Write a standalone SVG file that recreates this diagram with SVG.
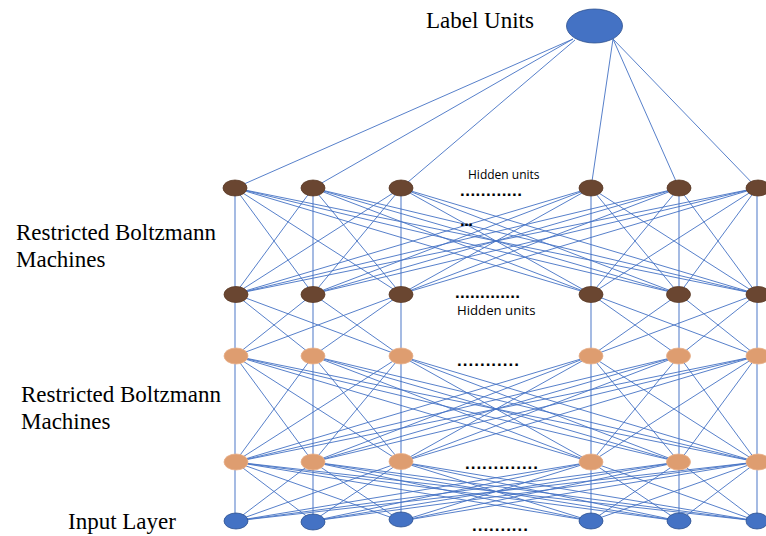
<svg xmlns="http://www.w3.org/2000/svg" width="766" height="536" viewBox="0 0 766 536">
<style>
.bg{fill:#ffffff}
.c{stroke:#4472C4;stroke-width:0.9;fill:none}
.v{stroke:#8FAADC;stroke-width:1.6;fill:none}
.brown{fill:#6A4631;stroke:#5A3A26;stroke-width:0.8}
.orange{fill:#DE9D70;stroke:#E8B08A;stroke-width:0.8}
.blue{fill:#4472C4;stroke:#2F528F;stroke-width:0.8}
.lbl{font-family:"Liberation Serif","Times New Roman",serif;font-size:23px;fill:#000}
.hu{font-family:"Open Sans","Liberation Sans",Arial,sans-serif;fill:#000}
.dots{font-family:"Liberation Sans",Arial,sans-serif;font-size:17px;font-weight:bold;fill:#000}
</style>
<rect class="bg" x="0" y="0" width="766" height="536"/>
<g id="connectors">
<path class="c" d="M573 39L235 188M573 39L313 188M575 40L401 188M613 39L591 188M613 39L679 188M613 39L757 188"/>
<path class="v" d="M235 188L235 294M313 188L313 294M401 188L401 294M591 188L591 294M679 188L679 294M757 188L757 294M235 294L235 356M313 294L313 356M401 294L401 356M591 294L591 356M679 294L679 356M757 294L757 356M235 356L235 462M313 356L313 462M401 356L401 462M591 356L591 462M679 356L679 462M757 356L757 462M235 462L235 521M313 462L313 521M401 462L401 521M591 462L591 521M679 462L679 521M757 462L757 521"/>
<path class="c" d="M235 188L313 294M235 188L401 294M235 188L591 294M235 188L679 294M235 188L757 294M313 188L235 294M313 188L401 294M313 188L591 294M313 188L679 294M313 188L757 294M401 188L235 294M401 188L313 294M401 188L591 294M401 188L679 294M401 188L757 294M591 188L235 294M591 188L313 294M591 188L401 294M591 188L679 294M591 188L757 294M679 188L235 294M679 188L313 294M679 188L401 294M679 188L591 294M679 188L757 294M757 188L235 294M757 188L313 294M757 188L401 294M757 188L591 294M757 188L679 294"/>
<path class="c" d="M235 294L313 356M235 294L401 356M313 294L235 356M313 294L401 356M401 294L235 356M401 294L313 356M591 294L679 356M591 294L757 356M679 294L591 356M679 294L757 356M757 294L591 356M757 294L679 356"/>
<path class="c" d="M235 356L313 462M235 356L401 462M235 356L591 462M235 356L679 462M235 356L757 462M313 356L235 462M313 356L401 462M313 356L591 462M313 356L679 462M313 356L757 462M401 356L235 462M401 356L313 462M401 356L591 462M401 356L679 462M401 356L757 462M591 356L235 462M591 356L313 462M591 356L401 462M591 356L679 462M591 356L757 462M679 356L235 462M679 356L313 462M679 356L401 462M679 356L591 462M679 356L757 462M757 356L235 462M757 356L313 462M757 356L401 462M757 356L591 462M757 356L679 462"/>
<path class="c" d="M235 462L313 521M235 462L401 521M235 462L591 521M235 462L679 521M235 462L757 521M313 462L235 521M313 462L401 521M313 462L591 521M313 462L679 521M313 462L757 521M401 462L235 521M401 462L313 521M401 462L591 521M401 462L679 521M401 462L757 521M591 462L235 521M591 462L313 521M591 462L401 521M591 462L679 521M591 462L757 521M679 462L235 521M679 462L313 521M679 462L401 521M679 462L591 521M679 462L757 521M757 462L235 521M757 462L313 521M757 462L401 521M757 462L591 521M757 462L679 521"/>
</g>
<g id="label-units"><ellipse class="blue" cx="594.5" cy="26" rx="28" ry="17"/></g>
<g id="hidden-top">
<ellipse id="a1" class="brown" cx="235" cy="188" rx="12" ry="8"/>
<ellipse id="a2" class="brown" cx="313" cy="188" rx="12" ry="8"/>
<ellipse id="a3" class="brown" cx="401" cy="188" rx="12" ry="8"/>
<ellipse id="a4" class="brown" cx="591" cy="188" rx="12" ry="8"/>
<ellipse id="a5" class="brown" cx="679" cy="188" rx="12" ry="8"/>
<ellipse id="a6" class="brown" cx="758" cy="188" rx="12" ry="8"/>
</g>
<g id="hidden-2">
<ellipse id="b1" class="brown" cx="236" cy="294.5" rx="12" ry="8"/>
<ellipse id="b2" class="brown" cx="313" cy="294.5" rx="12" ry="8"/>
<ellipse id="b3" class="brown" cx="401" cy="294.5" rx="12" ry="8"/>
<ellipse id="b4" class="brown" cx="591" cy="294.5" rx="12" ry="8"/>
<ellipse id="b5" class="brown" cx="678.5" cy="294.5" rx="12" ry="8"/>
<ellipse id="b6" class="brown" cx="758" cy="294.5" rx="12" ry="8"/>
</g>
<g id="hidden-3">
<ellipse id="c1" class="orange" cx="236" cy="356" rx="12" ry="8"/>
<ellipse id="c2" class="orange" cx="313" cy="356" rx="12" ry="8"/>
<ellipse id="c3" class="orange" cx="401" cy="356" rx="12" ry="8"/>
<ellipse id="c4" class="orange" cx="591" cy="356" rx="12" ry="8"/>
<ellipse id="c5" class="orange" cx="678.5" cy="356" rx="12" ry="8"/>
<ellipse id="c6" class="orange" cx="758" cy="356" rx="12" ry="8"/>
</g>
<g id="hidden-4">
<ellipse id="d1" class="orange" cx="236" cy="462" rx="12" ry="8"/>
<ellipse id="d2" class="orange" cx="313" cy="462" rx="12" ry="8"/>
<ellipse id="d3" class="orange" cx="401" cy="461.5" rx="12" ry="8"/>
<ellipse id="d4" class="orange" cx="591" cy="462" rx="12" ry="8"/>
<ellipse id="d5" class="orange" cx="678.5" cy="462" rx="12" ry="8"/>
<ellipse id="d6" class="orange" cx="758" cy="462" rx="12" ry="8"/>
</g>
<g id="input-layer">
<ellipse id="e1" class="blue" cx="236" cy="521" rx="12" ry="8"/>
<ellipse id="e2" class="blue" cx="313" cy="522" rx="12" ry="8"/>
<ellipse id="e3" class="blue" cx="401" cy="519.5" rx="12" ry="7.5"/>
<ellipse id="e4" class="blue" cx="591" cy="521" rx="12" ry="8"/>
<ellipse id="e5" class="blue" cx="679" cy="521" rx="12" ry="8"/>
<ellipse id="e6" class="blue" cx="757" cy="521" rx="11" ry="8"/>
</g>
<g id="texts">
<text class="lbl" x="426" y="28">Label Units</text>
<text class="lbl" x="16" y="240">Restricted Boltzmann</text>
<text class="lbl" x="16" y="267">Machines</text>
<text class="lbl" x="21" y="402">Restricted Boltzmann</text>
<text class="lbl" x="21" y="429">Machines</text>
<text class="lbl" x="68" y="529">Input Layer</text>
<text class="hu" x="468" y="179" font-size="12">Hidden units</text>
<text class="hu" x="457" y="315" font-size="13.2">Hidden units</text>
<text class="dots" x="460" y="196" textLength="62" lengthAdjust="spacing">............</text>
<text class="dots" x="460" y="226" textLength="13" lengthAdjust="spacing">...</text>
<text class="dots" x="455" y="297.5" font-size="15" textLength="65" lengthAdjust="spacing">.............</text>
<text class="dots" x="457" y="366" textLength="62" lengthAdjust="spacing">...........</text>
<text class="dots" x="465" y="469" textLength="73" lengthAdjust="spacing">.............</text>
<text class="dots" x="472" y="531" textLength="56" lengthAdjust="spacing">..........</text>
</g>
</svg>
